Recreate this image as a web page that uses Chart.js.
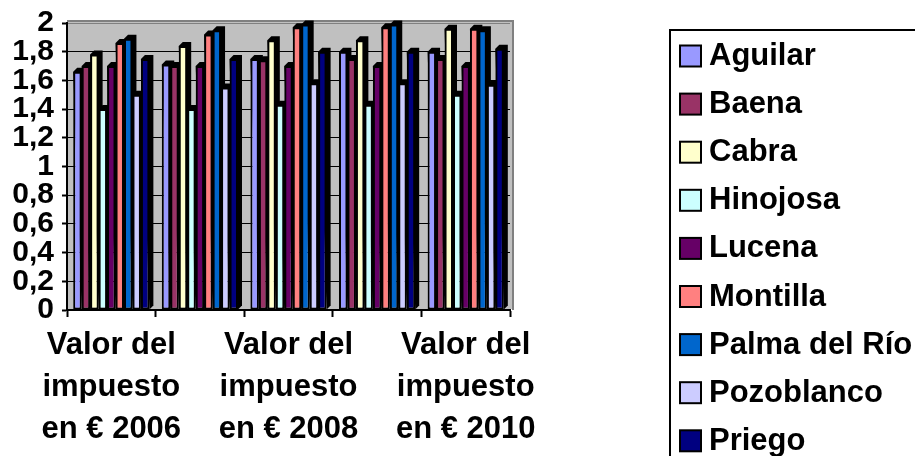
<!DOCTYPE html>
<html lang="es">
<head>
<meta charset="UTF-8">
<title>Valor del impuesto</title>
<script src="https://cdn.jsdelivr.net/npm/chart.js"></script>
<style>
  html, body { margin: 0; padding: 0; background: #fff; }
  #wrap { width: 915px; height: 456px; }
</style>
</head>
<body>
<div id="wrap"><canvas id="chart" width="915" height="456"></canvas></div>
<script>
// años y municipios
const years = ['2006', '2007', '2008', '2009', '2010'];
const municipios = ['Aguilar', 'Baena', 'Cabra', 'Hinojosa', 'Lucena', 'Montilla', 'Palma del Río', 'Pozoblanco', 'Priego'];

// valor del impuesto (€) por municipio y año
const aguilar    = [1.66, 1.71, 1.75, 1.80, 1.80];
const baena      = [1.70, 1.70, 1.74, 1.75, 1.75];
const cabra      = [1.78, 1.84, 1.88, 1.88, 1.96];
const hinojosa   = [1.40, 1.40, 1.43, 1.43, 1.50];
const lucena     = [1.70, 1.70, 1.70, 1.70, 1.70];
const montilla   = [1.86, 1.92, 1.97, 1.97, 1.96];
const palma      = [1.89, 1.95, 1.99, 1.99, 1.95];
const pozoblanco = [1.50, 1.55, 1.58, 1.58, 1.57];
const priego     = [1.75, 1.75, 1.80, 1.80, 1.82];

const series = [aguilar, baena, cabra, hinojosa, lucena, montilla, palma, pozoblanco, priego];
const colores = ['#9999ff', '#993366', '#ffffcc', '#ccffff', '#660066', '#ff8080', '#0066cc', '#ccccff', '#000080'];

const yTicks = ['0', '0,2', '0,4', '0,6', '0,8', '1', '1,2', '1,4', '1,6', '1,8', '2'];

const FONT = '"Liberation Sans", Arial, sans-serif';

// pared gris del fondo
const pared = {
  id: 'pared',
  beforeDraw(chart) {
    const { ctx, chartArea: a } = chart;
    ctx.save();
    ctx.fillStyle = '#c0c0c0';
    ctx.fillRect(a.left, a.top - 2, a.right - a.left + 3, a.bottom - a.top + 1);
    ctx.strokeStyle = '#808080';
    ctx.lineWidth = 2;
    ctx.beginPath();
    ctx.moveTo(a.left, a.top - 2);
    ctx.lineTo(a.right + 3, a.top - 2);
    ctx.lineTo(a.right + 3, a.bottom);
    ctx.stroke();
    ctx.restore();
  }
};

// lado y tapa oscuros de cada columna
const profundidad = {
  id: 'profundidad',
  beforeDatasetsDraw(chart) {
    const ctx = chart.ctx;
    const d = 4;
    ctx.save();
    ctx.fillStyle = '#000';
    chart.data.datasets.forEach((ds, i) => {
      chart.getDatasetMeta(i).data.forEach(bar => {
        const { x, y, base, width } = bar.getProps(['x', 'y', 'base', 'width'], true);
        const l = x - width / 2, r = x + width / 2;
        ctx.beginPath();
        ctx.moveTo(l, y);
        ctx.lineTo(l + d, y - d);
        ctx.lineTo(r + d, y - d);
        ctx.lineTo(r + d, base - d);
        ctx.lineTo(r, base);
        ctx.closePath();
        ctx.fill();
      });
    });
    ctx.restore();
  }
};

// leyenda enmarcada a la derecha
const leyenda = {
  id: 'leyenda',
  afterDraw(chart) {
    const ctx = chart.ctx;
    ctx.save();
    ctx.lineWidth = 2;
    ctx.strokeStyle = '#000';
    ctx.strokeRect(670, 30, 300, 460);
    ctx.font = 'bold 31px ' + FONT;
    ctx.textBaseline = 'middle';
    chart.data.datasets.forEach((ds, i) => {
      const cy = 55.5 + i * 48.1;
      ctx.fillStyle = ds.backgroundColor;
      ctx.fillRect(680, cy - 10, 21, 21);
      ctx.strokeRect(680, cy - 10, 21, 21);
      ctx.fillStyle = '#000';
      ctx.fillText(ds.label, 709, cy + 1);
    });
    ctx.restore();
  }
};

new Chart(document.getElementById('chart'), {
  type: 'bar',
  data: {
    labels: years.map(y => ['Valor del', 'impuesto', 'en € ' + y]),
    datasets: municipios.map((m, i) => ({
      label: m,
      data: series[i],
      backgroundColor: colores[i],
      borderColor: '#000',
      borderWidth: 2,
      borderSkipped: false,
      categoryPercentage: 0.86,
      barPercentage: 1.0
    }))
  },
  options: {
    responsive: false,
    animation: false,
    devicePixelRatio: 1,
    layout: { padding: { top: 21, right: 405, left: 0, bottom: 0 } },
    plugins: {
      legend: { display: false },
      tooltip: { enabled: false }
    },
    scales: {
      x: {
        grid: { offset: true, drawOnChartArea: false, color: '#000', tickLength: 7, tickWidth: 2 },
        border: { color: '#000', width: 2 },
        ticks: {
          autoSkip: false,
          maxRotation: 0,
          minRotation: 0,
          color: '#000',
          padding: 7,
          font: { family: FONT, size: 31, weight: 'bold', lineHeight: 1.36 },
          callback(v, i) { return i % 2 === 0 ? this.getLabelForValue(v) : ''; }
        },
        afterFit(s) { s.height = 146; }
      },
      y: {
        min: 0,
        max: 2,
        ticks: {
          stepSize: 0.2,
          autoSkip: false,
          color: '#000',
          padding: 8,
          font: { family: FONT, size: 30, weight: 'bold', lineHeight: 1 },
          callback: (v, i) => yTicks[i]
        },
        grid: {
          color: c => (c.tick && c.tick.value >= 2) ? '#808080' : '#000',
          lineWidth: 1,
          tickColor: '#000',
          tickLength: 5,
          tickWidth: 2
        },
        border: { color: '#000', width: 2 },
        afterFit(s) { s.width = 67; }
      }
    }
  },
  plugins: [pared, profundidad, leyenda]
});
</script>
</body>
</html>
